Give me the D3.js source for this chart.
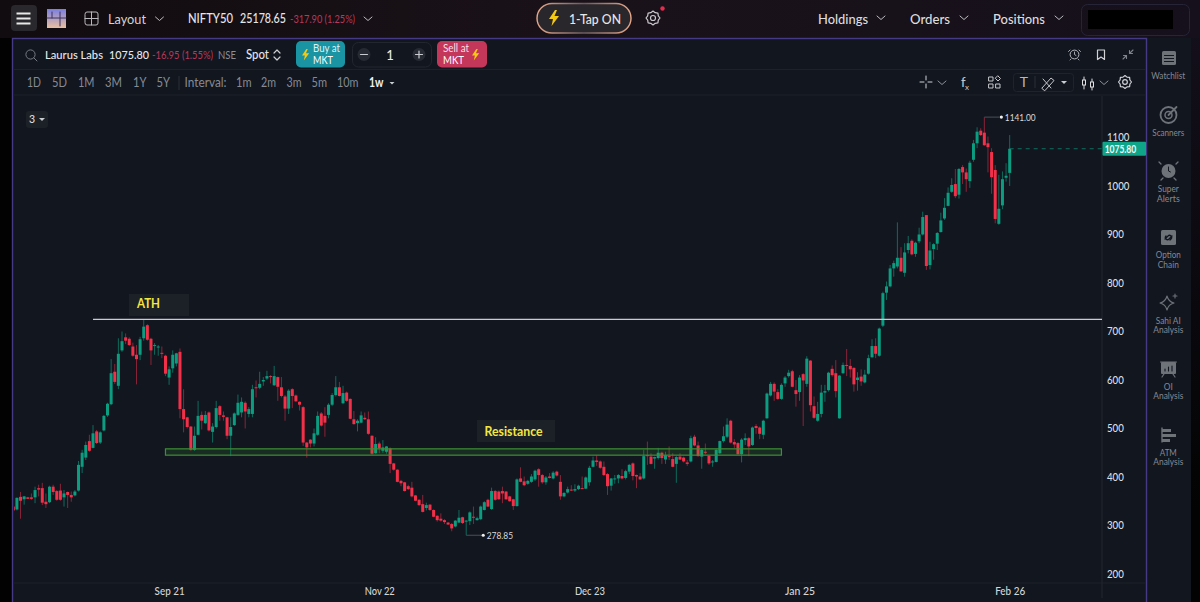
<!DOCTYPE html>
<html><head><meta charset="utf-8">
<script src="https://cdn.jsdelivr.net/npm/d3@7"></script>
<style>html,body{margin:0;padding:0;background:#000;overflow:hidden}svg{display:block}text{font-family:Lato,"Noto Sans",sans-serif}</style>
</head><body><svg id="c" width="1200" height="602"></svg>
<script>
const opens=[338,332,358,353,357,357,357,376,376,348,347,379,370,371,357,368,362,361,371,420,439,473,459,493,470,495,526,549,616,587,660,687,684,668,651,651,685,712,684,669,666,655,649,604,623,633,657,539,522,503,455,486,527,510,532,492,502,545,526,522,484,506,527,532,552,529,529,584,583,596,602,607,588,605,584,565,540,580,567,554,
543,470,476,468,486,530,525,527,548,568,584,551,573,560,518,510,511,521,518,484,448,468,453,451,458,427,414,391,388,380,377,361,352,343,335,342,331,319,313,310,305,302,297,305,316,307,308,317,310,312,331,352,333,370,369,370,369,359,353,339,396,390,385,389,394,415,403,388,400,396,410,389,
359,367,373,371,374,376,375,388,420,433,431,420,405,381,394,396,401,397,410,427,403,400,396,444,441,437,438,449,435,442,436,426,441,439,429,431,482,464,441,451,443,429,430,448,473,482,515,471,469,446,475,479,465,504,501,486,520,567,591,574,560,592,607,617,578,574,611,591,639,545,515,529,573,578,622,613,520,613,630,628,624,599,
606,594,612,646,669,649,711,779,792,829,833,851,820,867,886,859,885,899,939,836,869,880,904,932,958,987,1003,981,1038,1027,1009,1053,1087,1113,1109,1087,1069,1032,921,959,1016,1026];
const highs=[341,357,368,360,358,365,379,383,387,365,381,383,372,385,372,369,369,372,432,455,472,486,506,496,493,527,552,642,632,685,699,695,687,676,671,688,724,714,686,675,671,668,651,627,660,655,664,580,523,504,503,556,534,535,534,510,556,547,534,523,522,532,569,563,555,543,589,598,616,605,618,609,628,606,605,568,580,582,569,555,
545,471,477,499,534,533,543,551,572,607,595,587,575,561,535,518,534,532,534,485,481,472,475,463,460,428,415,393,389,383,389,362,353,362,346,343,332,320,324,312,306,304,310,331,317,310,328,338,317,340,349,354,377,372,371,379,370,360,354,396,419,400,393,405,414,417,405,401,407,411,412,403,
368,379,382,384,383,400,400,422,441,444,433,431,407,397,403,405,415,414,426,429,404,407,455,472,448,441,459,451,451,462,448,442,448,441,434,484,486,472,458,468,444,434,456,474,503,520,517,477,471,479,489,481,503,508,503,517,573,595,594,580,592,607,620,620,599,609,613,648,640,565,554,589,589,616,629,640,609,635,663,642,625,615,
621,620,651,683,685,707,781,802,836,845,924,873,881,896,889,884,913,946,939,884,881,904,944,974,996,1015,1034,1036,1042,1035,1051,1094,1120,1118,1141,1101,1077,1042,1022,1029,1046,1104];
const lows=[324,330,313,342,354,352,345,359,341,335,345,362,350,350,338,335,348,359,369,407,434,451,458,467,467,493,523,547,591,580,657,673,669,647,590,640,680,680,630,651,649,644,607,589,614,627,520,491,499,453,453,485,497,508,493,470,499,515,515,477,442,504,525,522,499,522,522,563,580,587,599,592,587,556,563,515,529,541,554,536,
463,439,460,462,484,503,482,520,545,565,565,549,554,518,507,493,510,517,486,445,447,448,449,447,407,412,388,380,369,372,357,349,339,326,330,329,316,307,307,302,300,287,295,304,302,278.85,300,302,309,310,330,337,331,350,352,345,352,348,331,338,388,380,383,387,391,379,385,383,396,394,400,352,
357,365,370,368,372,374,374,381,419,422,416,401,362,371,385,386,394,394,405,392,376,393,394,424,425,416,435,426,426,434,419,387,434,429,422,429,462,441,416,446,424,420,429,446,470,479,468,458,445,429,465,442,463,488,477,477,519,565,556,558,558,585,604,584,544,556,504,585,534,519,513,522,554,575,606,563,519,611,607,604,575,577,
587,592,610,644,644,647,708,764,790,812,829,822,812,860,856,853,881,897,826,827,847,867,903,929,957,985,974,973,1003,987,995,1049,1077,1102,1082,1027,983,922,919,951,1008,999];
const closes=[330,356,350,359,354,354,372,373,346,343,379,368,352,352,365,362,357,369,424,449,465,453,489,469,491,525,550,613,595,653,679,680,671,649,642,683,709,682,660,671,668,653,612,621,651,654,539,518,502,455,484,525,515,527,495,503,541,527,523,484,502,530,552,554,534,539,580,583,591,599,607,605,607,585,566,540,577,566,555,548,
470,460,468,489,525,505,511,548,568,584,566,572,556,519,508,515,526,518,488,447,467,458,460,462,426,414,389,386,370,374,359,350,341,327,341,331,317,310,309,306,301,293,309,315,304,309,326,315,314,338,347,338,370,352,353,365,353,349,339,394,389,382,391,400,412,403,388,398,397,408,402,359,
366,374,371,374,381,375,398,418,433,430,418,403,380,396,396,403,396,411,424,401,400,394,442,443,426,440,449,438,444,441,420,440,435,431,426,479,464,442,455,449,427,431,455,473,483,507,470,466,446,476,479,462,501,500,488,515,571,591,575,560,589,604,614,585,570,604,598,643,547,521,529,573,576,614,609,576,608,630,628,621,590,604,
596,610,644,669,653,705,778,792,829,840,851,823,862,881,858,882,899,935,834,866,879,902,928,954,985,1001,978,1034,1027,1013,1047,1087,1111,1104,1083,1079,1017,931,952,1013,1020,1075.8];
const priceTicks=[200,300,400,500,600,700,800,900,1000,1100];
const timeTickIndex=[43,101,159,217,275];
const timeTickLabels=["Sep 21","Nov 22","Dec 23","Jan 25","Feb 26"];
const athLevel=724, resistanceTop=457, resistanceBottom=444;
const candles=opens.map((o,i)=>({i,o,h:highs[i],l:lows[i],c:closes[i]}));

const svg=d3.select("#c");
const defs=svg.append("defs");
const g0=defs.append("linearGradient").attr("id","top");
g0.append("stop").attr("offset","0").attr("stop-color","#110c0f");
g0.append("stop").attr("offset","0.5").attr("stop-color","#1a1219");
g0.append("stop").attr("offset","1").attr("stop-color","#15101c");
const g3=defs.append("linearGradient").attr("id","edge").attr("x1",0).attr("y1",0).attr("x2",0).attr("y2",1);
g3.append("stop").attr("offset","0").attr("stop-color","#15101c");
g3.append("stop").attr("offset","0.85").attr("stop-color","#030303");
const g1=defs.append("linearGradient").attr("id","logo").attr("x1",0).attr("y1",0).attr("x2",0).attr("y2",1);
g1.append("stop").attr("offset","0").attr("stop-color","#7b7fe0");
g1.append("stop").attr("offset","1").attr("stop-color","#eabf9f");
const g2=defs.append("linearGradient").attr("id","tap");
g2.append("stop").attr("offset","0").attr("stop-color","#e6a88a");
g2.append("stop").attr("offset","0.5").attr("stop-color","#6a5a5e");
g2.append("stop").attr("offset","1").attr("stop-color","#e6a88a");
defs.append("clipPath").attr("id","plot").append("rect").attr("x",14).attr("y",96).attr("width",1088).attr("height",487);

function R(x,y,w,h,f,o={}){const r=svg.append("rect").attr("x",x).attr("y",y).attr("width",w).attr("height",h).attr("fill",f);if(o.s)r.attr("stroke",o.s).attr("stroke-width",o.sw||1);if(o.r)r.attr("rx",o.r);return r}
function T(s,x,y,size,col,o={}){const t=svg.append("text").attr("x",x).attr("y",y).attr("font-size",size).attr("fill",col).attr("font-weight",o.w||400).attr("text-anchor",o.a||"start").text(s);if(o.l)t.attr("textLength",o.l).attr("lengthAdjust","spacingAndGlyphs");return t}
function P(d,o={}){return svg.append("path").attr("d",d).attr("fill",o.f||"none").attr("stroke",o.s||"none").attr("stroke-width",o.sw||1).attr("stroke-linecap","round").attr("stroke-linejoin","round")}
const chev=(x,y,c="#bdbdc2")=>P(`M${x} ${y}l4 3.5l4-3.5`,{s:c,sw:1});
const bolt=(x,y,k=1)=>P(`M${x+6*k} ${y}L${x} ${y+9*k}h${4*k}L${x+2.5*k} ${y+16*k}L${x+10*k} ${y+6*k}h${-4.5*k}L${x+8*k} ${y}z`,{f:"#f4c914"});
const gear=(x,y,r,c)=>{const n=8,pts=[];for(let k=0;k<n*2;k++){const a=k*Math.PI/n,rr=k%2?r*0.82:r;pts.push((k?"L":"M")+(x+rr*Math.cos(a)).toFixed(1)+" "+(y+rr*Math.sin(a)).toFixed(1))}P(pts.join("")+"z",{s:c,sw:1.2});svg.append("circle").attr("cx",x).attr("cy",y).attr("r",r*0.36).attr("fill","none").attr("stroke",c).attr("stroke-width",1.2)};

// page
R(0,0,1200,602,"#020202");
R(1191,0,9,602,"url(#edge)");
R(0,0,1200,38,"url(#top)");
R(1147,38,44,564,"#12161f");
// hamburger, logo, layout
R(11,5,26,26,"#29282d",{r:4});
[13.5,18.5,23.5].forEach(y=>R(16.5,y-1,14,2,"#e8e8e8"));
R(47,9,19,19,"url(#logo)");
P("M52 12v6M60 12v14M47 18h19",{s:"#3a3560",sw:1});
P("M85 14a2 2 0 0 1 2-2h9a2 2 0 0 1 2 2v9a2 2 0 0 1-2 2h-9a2 2 0 0 1-2-2zM85 18.5h13M91.5 12v13",{s:"#b9b9bd",sw:1});
T("Layout",108,24,13.5,"#d4d4d6",{l:38});
chev(155.5,17);
T("NIFTY50",188,23,13,"#e6e6e8",{w:500,l:45});
T("25178.65",240,23,13,"#e6e6e8",{w:500,l:46});
T("-317.90 (1.25%)",290,23,11,"#b8395b",{l:65});
chev(364,17);
// 1-tap
R(537,3.5,94,29.5,"#2a272c",{r:15,s:"url(#tap)",sw:1.4});
bolt(549,10,1);
T("1-Tap ON",569,24,14,"#e6e6e6",{w:500,l:52});
gear(653,18,7,"#c9c9cd");
svg.append("circle").attr("cx",662.5).attr("cy",8.5).attr("r",2.2).attr("fill","#e0304f");
T("Holdings",818,24,13.5,"#dcdcde",{w:500,l:50}); chev(877,16);
T("Orders",910,24,13.5,"#dcdcde",{w:500,l:40}); chev(960,16);
T("Positions",993,24,13.5,"#dcdcde",{w:500,l:52}); chev(1055,16);
R(1081.5,4.5,108,31,"none",{s:"#262437",r:6});
R(1088,10,85,19,"#000");

// panel
R(12.5,38.5,1134,570,"#12161f",{s:"#453a85",sw:1.4});
[69.5,95,583].forEach(v=>svg.append("line").attr("x1",14).attr("x2",1146).attr("y1",v).attr("y2",v).attr("stroke","#1d2129"));

// row 1
svg.append("circle").attr("cx",30.5).attr("cy",54.5).attr("r",4.6).attr("fill","none").attr("stroke","#777b83");
P("M34 58l3 3",{s:"#777b83"});
T("Laurus Labs",45,59,12,"#e8e8ea",{w:500,l:58});
T("1075.80",109,59,12,"#e8e8ea",{w:500,l:40});
T("-16.95 (1.55%)",152,59,10.5,"#b8395b",{l:61});
T("NSE",218,59,10.5,"#8a8e96",{l:18});
T("Spot",246,59,12.5,"#e3e3e5",{w:500,l:23});
P("M274 53l3-3l3 3M274 57l3 3l3-3",{s:"#cfcfd2",sw:1.2});
R(296,41,49,26.5,"#1a93a3",{r:5});
bolt(302,49,0.72);
T("Buy at",313,52,11,"#dff2f4",{l:27});
T("MKT",313,64,11,"#ffffff",{l:20});
R(352.5,42.5,79,24.5,"none",{s:"#22262e",r:6});
svg.append("circle").attr("cx",364).attr("cy",54.5).attr("r",6.5).attr("fill","#262b33");
P("M360.5 54.5h7",{s:"#c9ccd1",sw:1.2});
T("1",390,60,13,"#e8e8ea",{a:"middle",w:500});
svg.append("circle").attr("cx",419).attr("cy",54.5).attr("r",6.5).attr("fill","#262b33");
P("M415.5 54.5h7M419 51v7",{s:"#c9ccd1",sw:1.2});
R(437,41,50,26.5,"#c5365b",{r:5});
T("Sell at",443,52,11,"#f8dfe5",{l:26});
T("MKT",443,64,11,"#ffffff",{l:21});
bolt(472,49,0.72);
// right row-1 icons
svg.append("circle").attr("cx",1074.5).attr("cy",54.5).attr("r",4.4).attr("fill","none").attr("stroke","#b5b8bd");
P("M1074.5 52v2.5l1.5 1M1070 50l-1.5 1.5M1079 50l1.5 1.5M1071 59l-1 1M1078 59l1 1",{s:"#b5b8bd",sw:.9});
P("M1097.5 50h7v9.5l-3.5-2.5l-3.5 2.5z",{s:"#d0d2d6",sw:1.2});
P("M1133 50l-3.5 3.5M1129.5 50.5v3h3M1123 59l3.5-3.5M1126.5 58.5v-3h-3",{s:"#80848c",sw:1.1});
// row 2
[["1D",27,14],["5D",52,15],["1M",78,16.5],["3M",105,17],["1Y",133,13.5],["5Y",156.5,13.5],["Interval:",184.5,42],["1m",236,15.5],["2m",261,15],["3m",286.5,15],["5m",311.5,15.5],["10m",337,21.5]].forEach(d=>T(d[0],d[1],87,12.5,"#868b94",{l:d[2]}));
svg.append("line").attr("x1",179).attr("x2",179).attr("y1",76).attr("y2",90).attr("stroke","#2a2e36");
T("1w",369,87,12.5,"#f0f0f2",{w:700,l:14.5});
P("M389.5 82h5l-2.5 2.5z",{f:"#c9ccd1"});
// toolbar
P("M926 76v4M926 84v4M920 82h4M928 82h4",{s:"#d0d2d6",sw:1});
chev(938,81,"#8e9198");
T("f",961,87,13,"#c5c7cb",{w:500}); T("x",965,90,8,"#c5c7cb");
P("M989 77h4v4h-4zM989 84h4v4h-4zM996 84h4v4h-4zM998 76l2.5 2.5l-2.5 2.5l-2.5-2.5z",{s:"#c5c7cb",sw:1});
R(1013.5,73.5,60,18,"none",{s:"#1f232b",r:3});
T("T",1024,87,14,"#b5b8bd",{a:"middle"});
svg.append("line").attr("x1",1035).attr("x2",1035).attr("y1",76).attr("y2",88).attr("stroke","#2a2e36");
P("M1042 88l9-10l3 2.5l-9 10zM1043 79l8 9",{s:"#c5c7cb",sw:1});
P("M1061 81h6l-3 3z",{f:"#c9ccd1"});
P("M1084 77v12M1092 79v11",{s:"#e0e0e3",sw:1});
R(1082.5,80,3,5,"#12161f",{s:"#e0e0e3"});
R(1090.5,82,3,5,"#12161f",{s:"#e0e0e3"});
chev(1100,81,"#8e9198");
gear(1125,82,6.5,"#d0d2d6");

// chart
const x=d3.scaleLinear().domain([0,275]).range([13.3,1009.7]);
const y=d3.scaleLinear().domain([200,1100]).range([573.5,137]);
const GREEN="#0c9c80",RED="#f23049",GW="#0f6a5c",RW="#8a2438";

const yAxis=d3.axisRight(y).tickValues(priceTicks).tickSize(0).tickPadding(5).tickFormat(d3.format("d"));
const xAxis=d3.axisBottom(x).tickValues(timeTickIndex).tickSize(0).tickPadding(3).tickFormat((d,i)=>timeTickLabels[i]);
const ay=svg.append("g").attr("transform","translate(1102,0)").call(yAxis);
ay.select(".domain").attr("stroke","#23272f").attr("d","M0 96V598");
ay.selectAll("text").attr("fill","#dcdee1").attr("font-size",11).attr("font-weight",500).style("font-family","Lato")
  .attr("textLength",d=>String(d).length*5.6).attr("lengthAdjust","spacingAndGlyphs");
const ax=svg.append("g").attr("transform","translate(0,584)").call(xAxis);
ax.select(".domain").remove();
ax.selectAll("text").attr("fill","#d4d6da").attr("font-size",11).attr("font-weight",500).style("font-family","Lato")
  .attr("textLength",30).attr("lengthAdjust","spacingAndGlyphs");

const plot=svg.append("g").attr("clip-path","url(#plot)");
plot.append("g").selectAll("line").data(candles).join("line")
 .attr("x1",d=>x(d.i)).attr("x2",d=>x(d.i)).attr("y1",d=>y(d.h)).attr("y2",d=>y(d.l))
 .attr("stroke",d=>d.c>=d.o?GW:RW).attr("stroke-width",1);
plot.append("g").selectAll("rect").data(candles).join("rect")
 .attr("x",d=>x(d.i)-1.5).attr("width",3).attr("y",d=>y(Math.max(d.o,d.c)))
 .attr("height",d=>Math.max(1,Math.abs(y(d.o)-y(d.c))))
 .attr("fill",d=>d.c>=d.o?GREEN:RED);

// resistance zone
plot.append("rect").attr("x",x(42)).attr("width",x(212)-x(42)).attr("y",y(resistanceTop)).attr("height",y(resistanceBottom)-y(resistanceTop))
 .attr("fill","#3fa03a").attr("fill-opacity",0.16).attr("stroke","#3e8f35").attr("stroke-width",1.2);
// ATH
plot.append("line").attr("x1",x(22)).attr("x2",1102).attr("y1",y(athLevel)).attr("y2",y(athLevel)).attr("stroke","#c9cbcd").attr("stroke-width",1.2);
R(129,294,60,22,"#1c2027");
T("ATH",137,307.5,13,"#f5e642",{w:700,l:23});
R(477,420,78,22,"#1c2027");
T("Resistance",484.5,435.5,13,"#f5e642",{w:700,l:58});
// last price
const last=candles[candles.length-1];
plot.append("line").attr("x1",x(last.i)).attr("x2",1102).attr("y1",y(last.c)).attr("y2",y(last.c)).attr("stroke","#0e6f60").attr("stroke-dasharray","4 4");
svg.append("rect").attr("x",1102.5).attr("y",y(last.c)-7).attr("width",43.5).attr("height",14).attr("fill","#0ea589").attr("rx",1);
svg.append("text").attr("x",1104.7).attr("y",y(last.c)+3.8).attr("font-size",10.5).attr("font-weight",700).attr("fill","#f2f7f6").attr("textLength",31.5).attr("lengthAdjust","spacingAndGlyphs").text(last.c.toFixed(2));
// extremes
const hi=d3.greatest(candles,d=>d.h), lo=d3.least(candles,d=>d.l);
[[hi,hi.h],[lo,lo.l]].forEach(([d,v])=>{
 const X=x(d.i),Y=y(v),s=v.toFixed(2);
 plot.append("line").attr("x1",X).attr("x2",X+15).attr("y1",Y).attr("y2",Y).attr("stroke","#4b5058");
 plot.append("circle").attr("cx",X+17).attr("cy",Y).attr("r",1.6).attr("fill","#f0f0f0");
 plot.append("text").attr("x",X+20.5).attr("y",Y+3.5).attr("font-size",10).attr("fill","#d8dadd").attr("textLength",s.length*4.4).attr("lengthAdjust","spacingAndGlyphs").text(s);
});
// pill
R(26,111,22,17,"#1c2027",{r:3});
T("3",29,123,10.5,"#dcdde0",{w:500});
P("M39 118h6l-3 3z",{f:"#c9ccd1"});

// sidebar
const SC="#6e7279",LC="#858992";
const lab=(s,yy,l)=>T(s,1168.3,yy,9.5,LC,{a:"middle",l});
R(1162,51,14,14,SC,{r:1.5}); [55,58,61].forEach(v=>R(1164,v,10,1,"#12161f"));
lab("Watchlist",79,34);
svg.append("circle").attr("cx",1168.5).attr("cy",115).attr("r",8).attr("fill","none").attr("stroke",SC).attr("stroke-width",1.8);
svg.append("circle").attr("cx",1168.5).attr("cy",115).attr("r",3.5).attr("fill","none").attr("stroke",SC).attr("stroke-width",1.5);
P("M1168.5 115l8-8",{s:SC,sw:1.8});
lab("Scanners",135.5,32);
svg.append("circle").attr("cx",1168.5).attr("cy",171).attr("r",7).attr("fill",SC);
P("M1168.5 167v4l2 1",{s:"#12161f",sw:1}); P("M1161 164l-2-2M1176 164l2-2M1163 178l-2 2M1174 178l2 2",{s:SC,sw:1.3});
lab("Super",192,21); lab("Alerts",201.5,23);
R(1161,230,15,15,SC,{r:1.5}); P("M1165 239l3-3a2 2 0 0 1 3 3l-1 1M1172 236l-3 3a2 2 0 0 1-3-3",{s:"#12161f",sw:1.2});
lab("Option",258,25); lab("Chain",267.5,21);
P("M1167 296c1 4 3 6 7 7c-4 1-6 3-7 7c-1-4-3-6-7-7c4-1 6-3 7-7zM1175 294v4M1173 296h4",{s:SC,sw:1.1});
lab("Sahi AI",323.5,25); lab("Analysis",333,30);
R(1161,362,15,12,SC,{r:1}); P("M1160.5 362h16M1164 374l-2 3M1173 374l2 3",{s:SC,sw:1.2}); P("M1165 371v-2M1168.5 371v-4M1172 371v-5",{s:"#12161f",sw:1.1});
lab("OI",389.5,9); lab("Analysis",399,30);
P("M1162 428v14",{s:SC,sw:1.4}); R(1162,429,9,3,SC); R(1162,434,14,3,SC); R(1162,439,8,3,SC);
lab("ATM",455.5,17); lab("Analysis",465,30);
</script></body></html>
